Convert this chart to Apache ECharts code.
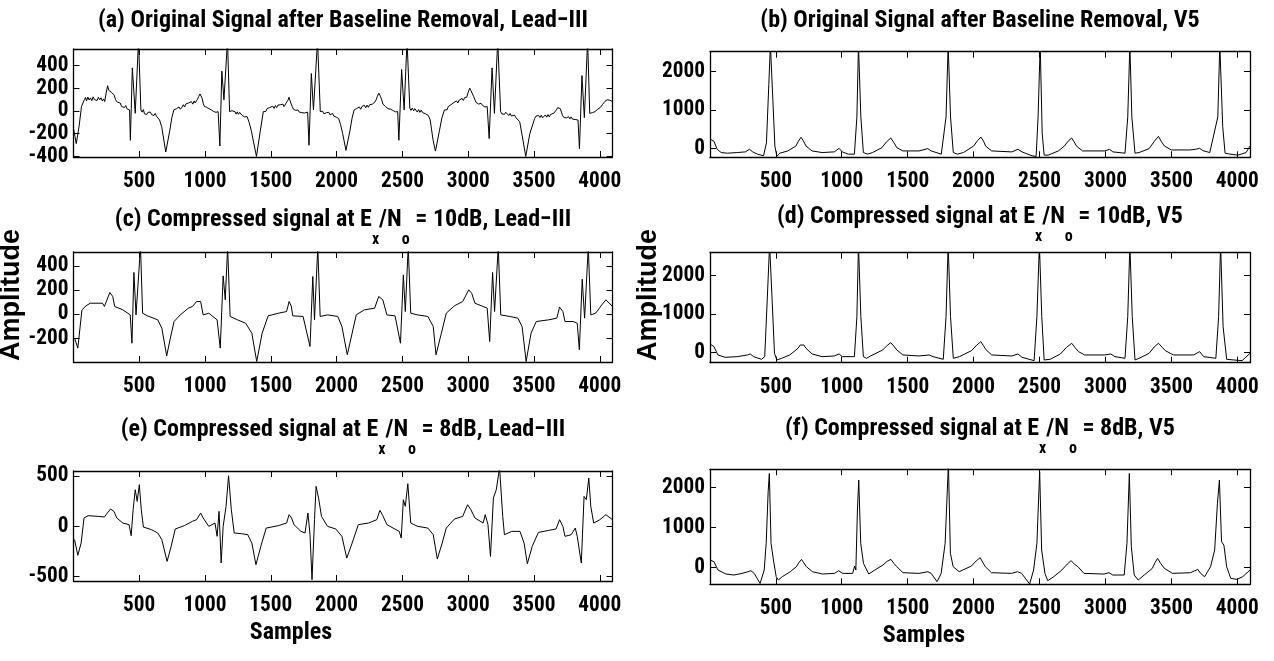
<!DOCTYPE html>
<html><head><meta charset="utf-8">
<script src="https://cdn.jsdelivr.net/npm/echarts@6/dist/echarts.min.js"></script>
<style>html,body{margin:0;padding:0;background:#fff}#c{width:1274px;height:661px}</style>
</head><body><div id="c"></div>
<script>
// ---- data (samples, amplitude) ----
const xTicks = [500, 1000, 1500, 2000, 2500, 3000, 3500, 4000];
const yTicksA = [-400, -200, 0, 200, 400];
const yTicksC = [-200, 0, 200, 400];
const yTicksE = [-500, 0, 500];
const yTicksV5 = [0, 1000, 2000];

// (a) Original Lead-III (noisy)
const aX = [1,22,43,62,83,92,100,110,120,130,140,150,160,170,180,190,200,210,220,230,238,248,260,270,278,288,300,310,321,333,346,356,366,377,388,398,406,414,421,427,
 433,448,470,495,513,522,532,540,549,558,567,576,585,594,603,612,622,631,640,655,671,702,733,748,763,
 773,783,793,803,813,825,835,845,855,865,875,887,897,907,918,925,933,942,952,962,971,979,986,995,1003,1011,1020,1030,1040,1050,1057,1066,1075,1084,1092,1100,
 1113,1128,1144,1171,1187,1196,1205,1214,1227,1236,1245,1254,1263,1274,1283,1292,1301,1310,1320,1335,1351,1391,1419,1443,
 1452,1462,1472,1482,1493,1505,1515,1525,1535,1545,1555,1565,1575,1583,1592,1600,1608,1614,1622,1632,1638,1644,1652,1663,1672,1680,1690,1698,1706,1716,1726,1736,1746,1756,1768,1780,
 1790,1808,1824,1855,1876,1885,1894,1903,1913,1923,1932,1941,1950,1960,1969,1978,1988,1998,2007,2015,2030,2046,2071,2102,2118,2133,
 2143,2153,2163,2173,2183,2193,2201,2211,2221,2231,2241,2251,2263,2272,2282,2292,2300,2310,2321,2332,2343,2352,2361,2371,2381,2391,2401,2411,2417,2427,2437,2447,2456,2464,
 2473,2494,2513,2535,2556,2565,2575,2585,2594,2603,2613,2623,2633,2643,2653,2664,2675,2686,2697,2711,2733,2751,2782,2800,2819,
 2829,2839,2849,2859,2869,2881,2891,2901,2911,2921,2931,2943,2953,2963,2973,2981,2989,2998,3011,3020,3029,3040,3051,3060,3070,3080,3090,3097,3107,3117,3127,3137,3144,
 3159,3181,3199,3224,3246,3255,3265,3275,3285,3298,3308,3318,3328,3338,3351,3363,3375,3391,3416,3437,3468,3505,
 3515,3525,3535,3545,3555,3565,3576,3586,3596,3606,3616,3626,3638,3650,3660,3669,3680,3691,3700,3708,3715,3725,3735,3745,3755,3762,3772,3782,3792,3802,3812,3824,3834,
 3845,3864,3882,3907,3923,3933,3943,3953,3963,3973,3983,3993,4003,4009,4019,4029,4039,4049,4055,4065,4075,4085,4096];
const aY = [-154,-287,-139,40,98,118,88,122,96,115,90,124,100,112,92,120,98,116,88,106,83,150,222,180,187,165,172,140,98,78,62,70,40,44,30,48,20,24,35,9,
 -258,379,-21,620,9,-10,12,-25,-8,-30,-12,-28,-10,-32,-18,-40,-22,-45,-36,-80,-139,-361,-169,-60,9,
 -5,20,5,35,15,33,55,35,62,45,70,59,82,60,88,70,74,100,127,150,142,110,68,40,55,33,45,20,30,8,15,-5,10,-12,2,-6,
 -308,350,98,620,-6,-20,2,-15,-6,-28,-8,-30,-12,-21,-40,-25,-52,-38,-50,-100,-169,-400,-184,-6,
 10,-5,22,5,30,24,42,22,48,30,52,35,55,39,60,38,55,44,80,98,121,110,70,39,15,28,5,18,9,-10,5,-15,2,-18,-6,-10,
 -302,329,9,620,-6,-22,-2,-25,-8,-15,-32,-12,-35,-18,-21,-45,-30,-55,-40,-65,-120,-199,-347,-169,-60,9,
 -5,22,8,35,15,40,33,50,28,52,32,55,39,60,45,80,98,130,157,130,98,60,70,39,50,20,35,15,24,5,18,-8,8,-6,
 -258,364,9,620,24,5,25,2,20,9,-10,12,-12,8,-15,-6,-25,-10,-40,-80,-258,-353,-169,-60,9,
 25,10,40,28,55,53,75,58,88,70,95,83,110,92,118,105,121,160,201,180,172,130,98,75,88,60,75,68,50,62,35,48,39,
 -243,379,-21,620,-6,-25,-8,-30,-12,-21,-40,-22,-45,-28,-36,-60,-50,-95,-258,-400,-199,-65,
 -45,-62,-40,-58,-38,-60,-50,-35,-55,-32,-52,-30,-44,-20,-5,9,30,44,20,-10,-36,-55,-40,-62,-45,-50,-70,-52,-72,-55,-75,-65,-80,
 -332,311,-59,620,-21,-35,-15,-25,-6,5,15,10,30,39,55,70,85,80,98,110,95,105,83];

// (b) Original V5
const bX = [1,31,55,86,132,208,269,300,325,361,407,429,447,459,478,493,508,530,591,652,672,692,710,729,775,851,943,980,1004,1050,1096,1115,1127,1145,1164,1194,1234,1304,1340,1372,1395,1418,1464,1586,1653,1678,1755,1791,1807,1825,1846,1877,1923,2000,2030,2055,2075,2091,2137,2290,2336,2367,2443,2474,2489,2505,2520,2535,2566,2643,2688,2718,2744,2762,2780,2826,2995,3031,3056,3148,3169,3185,3200,3224,3255,3331,3370,3402,3425,3448,3500,3638,3684,3714,3738,3791,3852,3867,3889,3907,3944,4005,4066,4096];
const bY = [245,186,-25,-110,-127,-110,-93,-25,-93,-152,-194,143,1663,2700,1241,59,-211,-127,-68,59,190,287,190,59,-68,-110,-93,0,-93,-152,-152,819,2700,819,-110,-152,-110,17,170,270,150,17,-68,-68,-8,-68,-152,819,2700,819,-110,-152,-110,59,200,295,190,59,-68,-93,-25,-93,-194,-211,819,2700,397,-177,-177,-68,59,190,270,170,59,-68,-68,-25,-93,-127,819,2700,819,-127,-110,-8,180,312,170,59,-42,-42,-25,0,-60,-110,819,2700,566,-127,-152,-177,-110,59];

// (c) Compressed Lead-III, 10 dB
const cX = [9,34,65,96,128,221,236,277,299,314,376,432,445,460,476,510,526,563,641,672,709,734,765,812,874,905,936,967,986,1029,1092,1116,1138,1154,1172,1191,1247,1309,1356,1393,1434,1480,1558,1620,1639,1655,1667,1745,1798,1819,1832,1857,1875,1931,2009,2040,2081,2118,2149,2211,2289,2320,2351,2382,2444,2485,2507,2522,2544,2563,2616,2693,2734,2755,2796,2833,2895,2958,3004,3026,3051,3144,3163,3185,3200,3228,3247,3315,3377,3409,3440,3477,3517,3611,3673,3694,3719,3735,3797,3828,3844,3866,3884,3912,3931,3968,4015,4046,4096];
const cY = [-199,-282,36,69,91,91,64,180,147,64,36,-6,-241,346,-6,560,8,-14,-47,-116,-346,-213,-61,-6,50,64,105,105,-6,8,-47,-282,318,119,560,-19,-47,-75,-158,-393,-158,-14,8,22,105,69,-14,-19,-268,313,-47,560,-19,-6,-19,-102,-337,-158,-6,36,50,147,119,-6,-14,-241,326,22,560,8,-6,-19,-102,-337,-158,8,69,105,202,174,91,50,-227,346,22,560,-6,-19,-33,-102,-393,-158,-61,-47,-33,58,22,-61,-61,-75,-296,290,-33,560,-6,8,77,119,64];

// (d) Compressed V5, 10 dB
const dX = [1,31,61,116,208,285,306,331,392,416,435,453,472,490,508,545,606,668,685,698,712,729,775,851,943,980,1004,1096,1115,1127,1145,1164,1188,1219,1311,1345,1372,1395,1418,1464,1586,1663,1693,1770,1791,1807,1825,1846,1892,1984,2025,2055,2075,2091,2137,2290,2336,2367,2459,2480,2499,2517,2535,2581,2658,2705,2744,2770,2796,2842,2995,3041,3071,3148,3169,3185,3203,3224,3255,3331,3370,3402,3430,3454,3515,3668,3714,3745,3837,3858,3873,3892,3919,3974,4036,4096];
const dY = [217,147,-69,-130,-113,-69,-43,-113,-182,-113,1360,2800,1360,-26,-199,-156,-69,104,190,234,190,104,-43,-113,-95,-43,-113,-113,927,2800,927,-113,-156,-95,61,180,251,160,61,-69,-95,-69,-113,-182,927,2800,927,-156,-113,43,190,277,170,78,-69,-95,-43,-130,-217,927,2800,927,-199,-182,-43,130,234,120,17,-69,-69,-43,-113,-156,927,2800,927,-199,-156,-26,140,234,130,43,-69,-69,17,-113,-156,927,2800,667,-182,-199,-217,-26];

// (e) Compressed Lead-III, 8 dB
const eX = [9,34,59,81,112,190,236,258,283,308,330,376,423,439,454,470,485,501,516,532,594,641,672,712,743,774,843,905,936,967,986,1029,1076,1092,1107,1123,1138,1160,1179,1200,1222,1278,1325,1356,1387,1424,1465,1558,1620,1639,1658,1676,1729,1760,1782,1798,1813,1832,1844,1863,1885,1931,1994,2040,2077,2118,2165,2242,2305,2329,2351,2382,2429,2476,2491,2507,2522,2541,2563,2616,2693,2734,2765,2802,2833,2895,2958,2995,3020,3051,3113,3129,3150,3169,3191,3213,3238,3262,3275,3331,3393,3424,3449,3486,3533,3611,3667,3694,3719,3735,3782,3813,3828,3859,3880,3897,3916,3931,3953,4000,4046,4096];
const eY = [-132,-288,-166,83,106,99,93,132,172,149,83,33,17,-93,166,364,248,414,166,-7,-33,-66,-132,-348,-199,-26,7,50,66,132,83,0,33,-99,149,-364,0,199,503,166,-66,-73,-83,-166,-381,-199,-17,7,33,116,83,17,-50,-66,132,-83,-530,66,397,281,99,0,-26,-99,-315,-166,17,33,66,159,106,17,-17,-50,-116,265,199,424,33,0,-17,-83,-324,-166,-17,73,99,215,166,83,33,116,17,-298,281,364,580,99,-83,-50,-50,-166,-371,-199,-60,-40,-26,66,0,-99,-83,-17,-99,-364,298,265,480,199,33,66,116,66];

// (f) Compressed V5, 8 dB
const fX = [1,31,61,122,183,244,290,311,336,381,412,427,442,451,464,482,503,519,549,610,656,678,695,713,732,778,854,946,976,1007,1083,1098,1107,1119,1129,1144,1165,1205,1251,1312,1345,1373,1395,1418,1464,1586,1653,1678,1723,1754,1784,1809,1824,1845,1891,1983,2020,2050,2070,2089,2135,2288,2333,2364,2425,2455,2480,2501,2516,2541,2562,2608,2669,2710,2739,2765,2791,2837,2989,3026,3056,3142,3163,3181,3196,3218,3248,3294,3355,3378,3395,3420,3447,3508,3645,3700,3721,3752,3797,3828,3849,3864,3880,3898,3919,3950,3996,4041,4096];
const fY = [192,150,-58,-158,-183,-142,-100,-75,-142,-392,-58,608,1900,2357,608,192,-225,-308,-225,-100,25,140,208,120,25,-100,-158,-142,-75,-142,-142,42,-58,1441,2191,608,108,-158,-58,67,160,208,110,25,-125,-142,-100,-142,-350,-142,608,2600,358,25,-100,42,170,250,130,25,-125,-142,-100,-142,-408,-58,608,2400,441,-142,-325,-225,-58,90,175,90,25,-142,-158,-125,-183,-183,608,2357,525,-183,-308,-183,-17,140,233,100,-17,-142,-125,-42,-142,-225,25,441,1608,2191,650,566,25,-267,-292,-225,-58];

// ---- font choice: prefer a narrow bold sans (the reference text is condensed) ----
const meas = document.createElement('canvas').getContext('2d');
function tw(font, s) { meas.font = font; return meas.measureText(s).width; }
const PROBE = 'Amplitude 4000 Wg';
function installed(f) {
  return Math.abs(tw('bold 100px ' + f + ', monospace', PROBE) - tw('bold 100px monospace', PROBE)) > 1 &&
         Math.abs(tw('bold 100px ' + f + ', serif', PROBE) - tw('bold 100px serif', PROBE)) > 1;
}
let FONT = "'Liberation Sans'", WEIGHT = 'bold';
const baseW = tw("bold 100px 'Liberation Sans'", PROBE);
let found = false;
for (const f of ["'Liberation Sans Narrow'", "'Arial Narrow'", "'Nimbus Sans Narrow'", "'Noto Sans Condensed'", "'Roboto Condensed'", "'Open Sans Condensed'"]) {
  if (installed(f) && tw('bold 100px ' + f, PROBE) < 0.9 * baseW) { FONT = f; found = true; break; }
}
if (!found) {
  for (const f of ["'Noto Sans'", "'Roboto'", "'Open Sans'"]) {
    if (installed(f) && tw('bold condensed 100px ' + f, PROBE) < 0.88 * tw('bold 100px ' + f, PROBE)) { FONT = f; WEIGHT = 'bold condensed'; break; }
  }
}
const w1 = s => tw(WEIGHT + ' 100px ' + FONT, s) / 100;
const tickFs = Math.min(24, 43 / w1('4000'));
const titleFs = Math.min(24, 496 / w1('(a) Original Signal after Baseline Removal, Lead\u2212III'));
const nameFs = Math.min(24, 87 / w1('Samples'));
const subFs = Math.round(titleFs * 0.66);

// ---- layout / style ----
const panels = [
  {x:aX, y:aY, yMin:-405, yMax:545, yTicks:yTicksA, g:{left:73.5, top:49, width:539, height:108}, base:29.5,
   title:'{m|(a) Original Signal after Baseline Removal, Lead\u2212III}'},
  {x:bX, y:bY, yMin:-234, yMax:2520, yTicks:yTicksV5, g:{left:710, top:51.7, width:540, height:105.6}, base:29.5,
   title:'{m|(b) Original Signal after Baseline Removal, V5}'},
  {x:cX, y:cY, yMin:-397, yMax:516, yTicks:yTicksC, g:{left:73.5, top:252, width:539, height:110}, base:228.5,
   title:'{m|(c) Compressed signal at E}{s|x}{m|/N}{s|o}{m| = 10dB, Lead\u2212III}'},
  {x:dX, y:dY, yMin:-270, yMax:2587, yTicks:yTicksV5, g:{left:710, top:252.7, width:540, height:110}, base:225.5,
   title:'{m|(d) Compressed signal at E}{s|x}{m|/N}{s|o}{m| = 10dB, V5}'},
  {x:eX, y:eY, yMin:-543, yMax:550, yTicks:yTicksE, g:{left:73.5, top:471, width:539, height:110}, base:438.5,
   title:'{m|(e) Compressed signal at E}{s|x}{m|/N}{s|o}{m| = 8dB, Lead\u2212III}', xName:'Samples', nameShift:104},
  {x:fX, y:fY, yMin:-415, yMax:2460, yTicks:yTicksV5, g:{left:710, top:469.3, width:540, height:115}, base:437.5,
   title:'{m|(f) Compressed signal at E}{s|x}{m|/N}{s|o}{m| = 8dB, V5}', xName:'Samples', nameShift:112}
];

const labelFont = {color:'#000', fontFamily:FONT, fontWeight:WEIGHT, fontSize:tickFs};
const lineAx = {show:true, onZero:false, lineStyle:{color:'#000', width:1.3}};
const option = {animation:false, backgroundColor:'#fff', title:[], grid:[], xAxis:[], yAxis:[], series:[], graphic:[]};

panels.forEach((p, i) => {
  option.grid.push(Object.assign({containLabel:false}, p.g));
  option.title.push({
    text: p.title, left: p.g.left + p.g.width / 2, top: p.base - 0.85 * titleFs, textAlign: 'center', padding: 0,
    textStyle: {rich: {
      m: {fontFamily:FONT, fontWeight:WEIGHT, fontSize:titleFs, lineHeight:titleFs, verticalAlign:'top', color:'#000'},
      s: {fontFamily:FONT, fontWeight:WEIGHT, fontSize:subFs, lineHeight:subFs, verticalAlign:'top', color:'#000',
          padding:[Math.round(titleFs * 1.0), 0, 0, 0]}
    }}
  });
  [false, true].forEach(top => {
    option.xAxis.push({
      type:'value', gridIndex:i, min:1, max:4096, position: top ? 'top' : 'bottom',
      axisLine: lineAx, splitLine:{show:false},
      axisTick:{show:true, inside:true, length:6, customValues:xTicks, lineStyle:{color:'#000', width:1}},
      axisLabel: Object.assign({show:!top, customValues:xTicks, margin:Math.round(25 - tickFs / 2), showMinLabel:true,
        showMaxLabel:true, hideOverlap:false, formatter: v => String(v)}, labelFont),
      name: (!top && p.xName) ? p.xName : '', nameLocation:'middle', nameGap:Math.round(52 - nameFs / 2),
      nameTextStyle: Object.assign({}, labelFont, {fontSize:nameFs, padding:[0, p.nameShift || 0, 0, 0]})
    });
    option.yAxis.push({
      type:'value', gridIndex:i, min:p.yMin, max:p.yMax, position: top ? 'right' : 'left',
      axisLine: lineAx, splitLine:{show:false},
      axisTick:{show:true, inside:true, length:6, customValues:p.yTicks, lineStyle:{color:'#000', width:1}},
      axisLabel: Object.assign({show:!top, customValues:p.yTicks, margin:5, showMinLabel:true, showMaxLabel:true,
        hideOverlap:false, formatter: v => String(v)}, labelFont)
    });
  });
  option.series.push({
    type:'line', xAxisIndex:i*2, yAxisIndex:i*2, showSymbol:false, clip:true, silent:true,
    lineStyle:{color:'#000', width:1},
    data: p.x.map((v, k) => [v, p.y[k]])
  });
});

[12, 649].forEach(xc => {
  option.graphic.push({
    type:'text', x: xc, y: 295, rotation: Math.PI / 2, silent:true,
    style:{text:'Amplitude', x:0, y:0, align:'center', verticalAlign:'middle',
      font:"bold 27px 'Liberation Sans', Arial, sans-serif", fill:'#000'}
  });
});

const chart = echarts.init(document.getElementById('c'), null, {renderer:'canvas'});
chart.setOption(option);
</script></body></html>
